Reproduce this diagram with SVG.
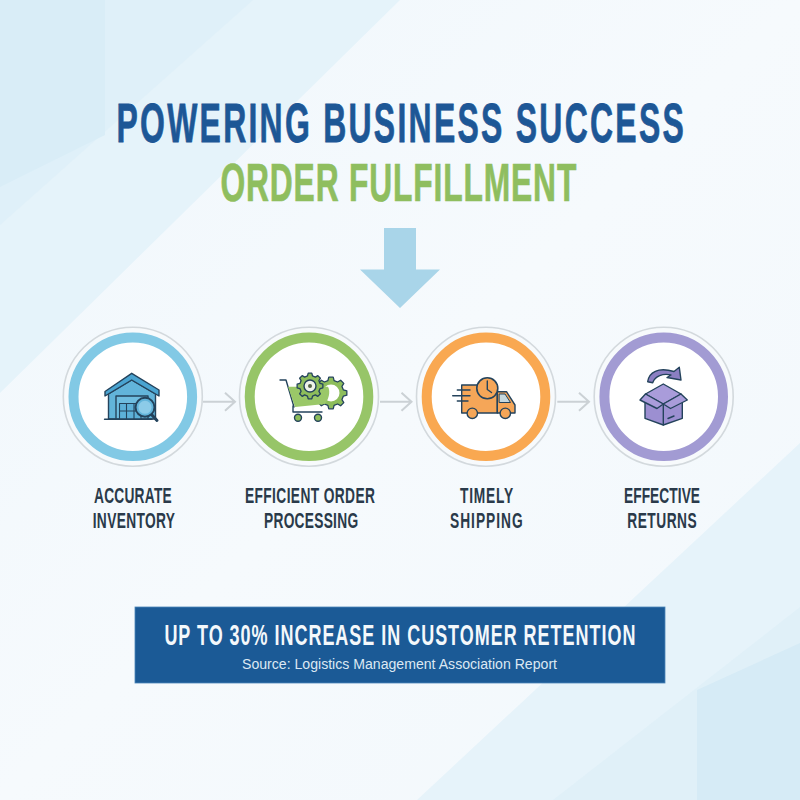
<svg xmlns="http://www.w3.org/2000/svg" width="800" height="800" viewBox="0 0 800 800">
<style>
.t{font-family:"Liberation Sans",Arial,sans-serif;font-weight:700}
.l{font-size:21.500px;fill:#2a3a4a}
.o{fill:#f7fafc;stroke:#d3d9dd;stroke-width:1.6}
.w{fill:#fff;stroke-width:10}
.c{fill:none;stroke:#cbd1d5;stroke-width:2}
.k{stroke:#24435c;stroke-width:1.4;stroke-linejoin:round;stroke-linecap:round}
</style>
<defs>
<linearGradient id="bg" x1="0" y1="0" x2="1" y2="1"><stop offset="0" stop-color="#f0f7fc"/><stop offset=".5" stop-color="#f6fafd"/><stop offset="1" stop-color="#f2f8fc"/></linearGradient>
<path id="gear" d="M7.76-1.94 9.9-1.39 9.9 1.39 7.76 1.94 6.86 4.12 8 6.02 6.02 8 4.12 6.86 1.94 7.76 1.39 9.9-1.39 9.9-1.94 7.76-4.12 6.86-6.02 8-8 6.02-6.86 4.12-7.76 1.94-9.9 1.39-9.9-1.39-7.76-1.94-6.86-4.12-8-6.02-6.02-8-4.12-6.86-1.94-7.76-1.39-9.9 1.39-9.9 1.94-7.76 4.12-6.86 6.02-8 8-6.02 6.86-4.12Z"/>
</defs>
<rect width="800" height="800" fill="url(#bg)"/>
<g id="background">
<polygon points="0,0 400,0 0,393" fill="#e5f3fa"/>
<polygon points="0,0 253,0 0,225" fill="#dff0f9"/>
<polygon points="0,0 105,0 105,135 0,187" fill="#d9edf7"/>
<polygon points="800,443 800,800 417,800" fill="#e6f3fa"/>
<polygon points="800,607 800,800 553,800" fill="#e0f0f8"/>
<polygon points="800,643 800,800 697,800 697,690" fill="#d6ebf6"/>
</g>
<g id="title">
<text class="t" transform="translate(116.500,142) scale(.58,1)" font-size="55" fill="#1d5796" stroke="#1d5796" stroke-width=".8" textLength="978" lengthAdjust="spacing">POWERING BUSINESS SUCCESS</text>
<text class="t" transform="translate(220.500,201) scale(.6,1)" font-size="53" fill="#8fbe5f" stroke="#8fbe5f" stroke-width=".7" textLength="593" lengthAdjust="spacing">ORDER FULFILLMENT</text>
</g>
<polygon id="down-arrow" points="384,228 416,228 416,269.500 440,269.500 400,308 360,269.500 384,269.500" fill="#a9d5e9"/>
<g id="connectors">
<path class="c" d="M203 401.700H235M225 392.700l10 9-10 9"/>
<path class="c" d="M380 401.700H411.500M401.500 392.700l10 9-10 9"/>
<path class="c" d="M557.300 401.700H589M579 392.700l10 9-10 9"/>
</g>
<g id="node-inventory">
<circle class="o" cx="132.800" cy="396.700" r="69.500"/>
<circle class="w" cx="132.800" cy="396.700" r="59.300" stroke="#82c9e5"/>
<g class="k">
<path d="M108.500 394L131.700 380 155.500 394V419H108.500Z" fill="#62b4da"/>
<path d="M105 391.500L131.700 373.300 159 390V396L131.700 380 105 396Z" fill="#4aa4d1"/>
<path d="M116 419V396H148V419Z" fill="#6fbde0"/>
<path d="M119.500 403.500H141V419H119.500ZM119.500 411H141M126.500 403.500V419M134 403.500V419" fill="#5cb0d8" stroke-width="1.100"/>
<path d="M104.500 419.300H152" fill="none"/>
<path d="M151.500 414.500L157 420.500" fill="none" stroke-width="3"/>
<circle cx="145" cy="407.300" r="9.500" fill="#62b4da" stroke-width="2"/>
<circle cx="145" cy="407.300" r="6.500" fill="#8ccbe8" stroke="none"/>
</g></g>
<g id="node-processing">
<circle class="o" cx="309" cy="396.700" r="69.500"/>
<circle class="w" cx="309" cy="396.700" r="59.300" stroke="#97c568"/>
<g class="k">
<use href="#gear" transform="translate(331,393) scale(1.6)" fill="#8dbd5b" stroke-width=".8"/>
<circle cx="331" cy="393" r="8.500" fill="#fff" stroke="none"/>
<path d="M280 380H286L294 407" fill="none"/>
<path d="M288 386.700H328C331 392 328 400 325 404L295 407Z" fill="#9ac868" stroke="none"/>
<use href="#gear" transform="translate(310,386) scale(1.3)" fill="#8dbd5b" stroke-width="1"/>
<circle cx="310" cy="386" r="6" fill="#eef3ea"/>
<circle cx="310" cy="386" r="2" fill="#55644a" stroke="none"/>
<path d="M293 406V412H322" fill="none"/>
<circle cx="298" cy="417.700" r="3.500" fill="#8dbd5b"/>
<circle cx="318" cy="417.700" r="3.500" fill="#8dbd5b"/>
</g></g>
<g id="node-shipping">
<circle class="o" cx="486" cy="396.700" r="69.500"/>
<circle class="w" cx="486" cy="396.700" r="59.300" stroke="#f9a851"/>
<g class="k">
<path d="M461.700 385H497.300V413H461.700Z" fill="#f5a658"/>
<path d="M497.300 391.700H506.500L515 405V413H497.300Z" fill="#f5a658"/>
<path d="M499.500 394H505L510.500 402.500H499.500Z" fill="#c5d8de" stroke-width="1"/>
<path d="M457.300 390H470M452.700 395.700H470M457.300 401H468" fill="none"/>
<circle cx="472.300" cy="413.300" r="5.200" fill="#f5a658"/>
<circle cx="505.300" cy="413.300" r="5.200" fill="#f5a658"/>
<circle cx="487.300" cy="388.300" r="10.500" fill="#f5a658" stroke-width="1.600"/>
<path d="M487.300 381V389.500L491.500 392.500" fill="none"/>
</g></g>
<g id="node-returns">
<circle class="o" cx="663.700" cy="396.700" r="69.500"/>
<circle class="w" cx="663.700" cy="396.700" r="59.300" stroke="#a29bd3"/>
<g class="k">
<path d="M647.700 381.700C649 372 658 367 674 371.500L679.300 367.300 681 380 667 377.500 671 375C663 373 655 376 652.700 382.700Z" fill="#8b7fc2"/>
<path d="M645 401V418.300L663.300 425 682.300 418.300V401L663.300 397Z" fill="#9c8fd1"/>
<path d="M663.300 404V425M668 418.500L674 416" fill="none"/>
<path d="M645.500 394L663.300 384 681 394 663.300 404Z" fill="#a99cda"/>
<path d="M645.500 394L663.300 404 657 408.500 640 400ZM681 394L663.300 404 670.500 408.500 687.300 400Z" fill="#a99cda"/>
</g></g>
<g id="labels">
<text class="t l" transform="translate(94,502.800) scale(.64,1)" textLength="121.400" lengthAdjust="spacing">ACCURATE</text>
<text class="t l" transform="translate(92.700,528) scale(.64,1)" textLength="128.600" lengthAdjust="spacing">INVENTORY</text>
<text class="t l" transform="translate(245,502.800) scale(.64,1)" textLength="203" lengthAdjust="spacing">EFFICIENT ORDER</text>
<text class="t l" transform="translate(264,528) scale(.64,1)" textLength="147" lengthAdjust="spacing">PROCESSING</text>
<text class="t l" transform="translate(460,502.800) scale(.64,1)" textLength="83" lengthAdjust="spacing">TIMELY</text>
<text class="t l" transform="translate(450,528) scale(.64,1)" textLength="113.600" lengthAdjust="spacing">SHIPPING</text>
<text class="t l" transform="translate(624,502.800) scale(.64,1)" textLength="118.800" lengthAdjust="spacing">EFFECTIVE</text>
<text class="t l" transform="translate(627.300,528) scale(.64,1)" textLength="108.400" lengthAdjust="spacing">RETURNS</text>
</g>
<g id="banner">
<rect x="135" y="607" width="530" height="76" fill="#1b5a96" stroke="#4b86b8" stroke-width=".8"/>
<text class="t" transform="translate(164.400,644.500) scale(.6,1)" font-size="30" fill="#f4f8fb" textLength="785" lengthAdjust="spacing">UP TO 30% INCREASE IN CUSTOMER RETENTION</text>
<text x="242" y="668.500" font-family="'Liberation Sans',Arial,sans-serif" font-size="14" fill="#dce8f3" textLength="315" lengthAdjust="spacingAndGlyphs">Source: Logistics Management Association Report</text>
</g>
</svg>
